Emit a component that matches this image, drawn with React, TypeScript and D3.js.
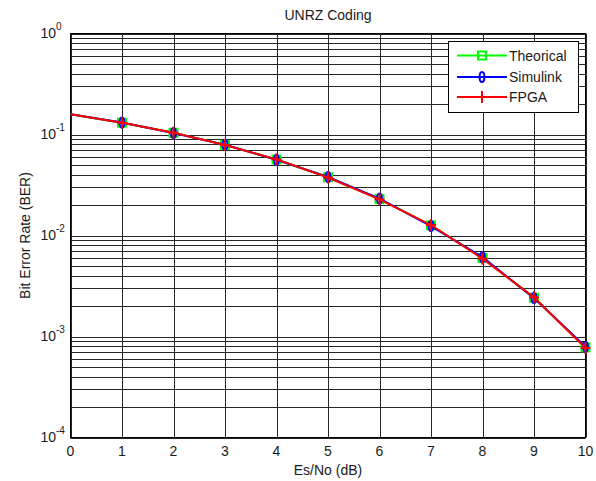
import React from "react";
import * as d3 from "d3";

const title = "UNRZ Coding";
const xLabel = "Es/No (dB)";
const yLabel = "Bit Error Rate (BER)";
const esNo = [0, 1, 2, 3, 4, 5, 6, 7, 8, 9, 10];
const theorical = [0.1587, 0.1309, 0.104, 0.0789, 0.0565, 0.0377, 0.023, 0.0126, 0.006, 0.00242, 0.00078];
const simulink = [0.159, 0.1312, 0.1037, 0.0792, 0.0562, 0.0379, 0.0232, 0.0124, 0.0061, 0.0024, 0.00079];
const fpga = [0.1585, 0.1305, 0.1042, 0.0786, 0.0567, 0.0375, 0.0228, 0.0127, 0.0059, 0.00244, 0.00077];
const xTicks = [0, 1, 2, 3, 4, 5, 6, 7, 8, 9, 10];
const yDecades = [0, -1, -2, -3, -4];
const seriesNames = ["Theorical", "Simulink", "FPGA"];
const seriesColors = ["#00ff00", "#0000ff", "#ff0000"];

const W = 596, H = 481;
const L = 70.5, R = 585.5, T = 33.5, B = 437.5;
const FONT = "'Liberation Sans', Arial, sans-serif";

export default function App() {
  const x = d3.scaleLinear().domain([0, 10]).range([L, R]);
  const y = d3.scaleLog().domain([1e-4, 1]).range([B, T]);
  const line = d3.line<number>().x((_, i) => x(esNo[i])).y((v) => y(v));
  const minor: number[] = [];
  for (let e = -4; e < 0; e++) for (let m = 2; m <= 9; m++) minor.push(m * Math.pow(10, e));
  const series = [theorical, simulink, fpga];
  const gridColor = "#262626";

  const marker = (k: number, cx: number, cy: number, key: string) => {
    const c = seriesColors[k];
    if (k === 0) return <rect key={key} x={cx - 4} y={cy - 4} width={8} height={8} fill="none" stroke={c} strokeWidth={2} />;
    if (k === 1) return <ellipse key={key} cx={cx} cy={cy} rx={2.4} ry={5} fill="none" stroke={c} strokeWidth={2} />;
    return (
      <g key={key} stroke={c} strokeWidth={2}>
        <line x1={cx - 5} x2={cx + 5} y1={cy} y2={cy} />
        <line x1={cx} x2={cx} y1={cy - 6} y2={cy + 6} />
      </g>
    );
  };

  return (
    <svg width={W} height={H} style={{ position: "absolute", left: 0, top: 0, background: "#fff" }} fontFamily={FONT}>
      <rect x={0} y={0} width={W} height={H} fill="#fff" />
      {/* grid */}
      <g stroke={gridColor} strokeWidth={1}>
        {xTicks.map((t) => (
          <line key={"vx" + t} x1={Math.round(x(t)) + 0.5} x2={Math.round(x(t)) + 0.5} y1={T} y2={B} />
        ))}
        {minor.map((v, i) => (
          <line key={"mh" + i} x1={L} x2={R} y1={Math.round(y(v)) + 0.5} y2={Math.round(y(v)) + 0.5} />
        ))}
        {yDecades.map((e) => (
          <line key={"dh" + e} x1={L} x2={R} y1={Math.round(y(Math.pow(10, e))) + 0.5} y2={Math.round(y(Math.pow(10, e))) + 0.5} />
        ))}
      </g>
      <rect x={L} y={T} width={R - L} height={B - T} fill="none" stroke="#000" strokeWidth={1} />
      {/* series */}
      {series.map((s, k) => (
        <g key={"s" + k}>
          <path d={line(s) || ""} fill="none" stroke={seriesColors[k]} strokeWidth={2} />
          {s.map((v, i) => (esNo[i] >= 1 ? marker(k, x(esNo[i]), y(v), `m${k}-${i}`) : null))}
        </g>
      ))}
      {/* x ticks */}
      <g fontSize={14} fill="#1a1a1a" textAnchor="middle">
        {xTicks.map((t) => (
          <text key={"xt" + t} x={x(t)} y={456}>{t}</text>
        ))}
      </g>
      {/* y ticks */}
      <g fontSize={14} fill="#1a1a1a">
        {yDecades.map((e) => (
          <g key={"yt" + e}>
            <text x={56} y={y(Math.pow(10, e)) + 4.5} textAnchor="end">10</text>
            <text x={56} y={y(Math.pow(10, e)) - 3.5} fontSize={10}>{e}</text>
          </g>
        ))}
      </g>
      <text x={(L + R) / 2} y={20} textAnchor="middle" fontSize={14} fill="#1a1a1a">{title}</text>
      <text x={(L + R) / 2} y={475} textAnchor="middle" fontSize={14} fill="#1a1a1a">{xLabel}</text>
      <text transform={`translate(30,${(T + B) / 2}) rotate(-90)`} textAnchor="middle" fontSize={14} fill="#1a1a1a">{yLabel}</text>
      {/* legend */}
      <g>
        <rect x={448.5} y={41.5} width={130} height={71} fill="#fff" stroke="#000" strokeWidth={1} />
        {seriesNames.map((n, k) => {
          const ly = [55.5, 77, 97][k];
          return (
            <g key={"lg" + k}>
              <line x1={457} x2={507} y1={ly} y2={ly} stroke={seriesColors[k]} strokeWidth={2} />
              {marker(k, 482, ly, "lm" + k)}
              <text x={509} y={ly + 5} fontSize={14} fill="#1a1a1a">{n}</text>
            </g>
          );
        })}
      </g>
    </svg>
  );
}
